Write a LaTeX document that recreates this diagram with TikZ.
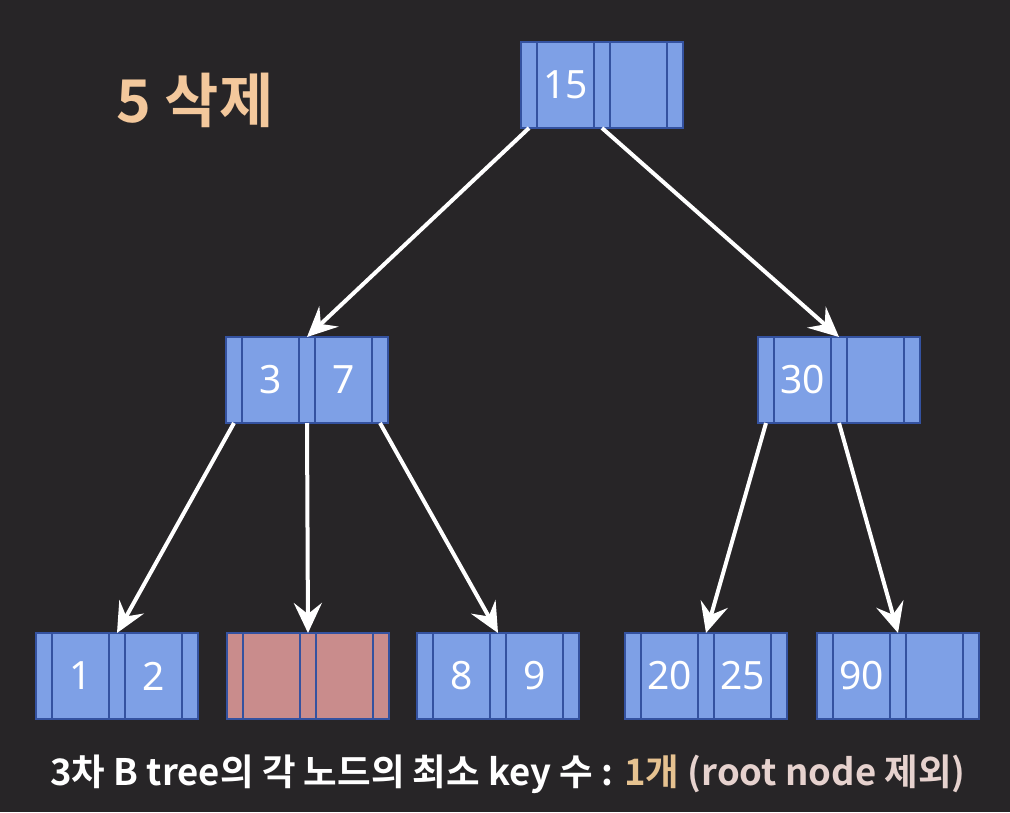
\documentclass[tikz,border=0pt]{standalone}
\usepackage{fontspec}
\setmainfont{Noto Sans}
\newfontfamily\krfont{Noto Sans CJK KR}[BoldFont={Noto Sans CJK KR Bold}]
\usetikzlibrary{positioning, arrows.meta}
\definecolor{bgColor}{HTML}{272527}
\definecolor{keyColor}{HTML}{7EA0E6}
\definecolor{lineColor}{HTML}{3452A0}
\definecolor{emptyColor}{HTML}{C98C8C}
\definecolor{titleColor}{HTML}{F3C89C}
\definecolor{countColor}{HTML}{E6C290}
\definecolor{noteColor}{HTML}{E6D2CE}
\tikzset{
  cell/.style = {draw=lineColor, line width=2.5pt, fill=keyColor, minimum height=86pt,
    inner sep=0pt, outer sep=0pt, text=white, font=\fontsize{39}{39}\selectfont},
  ptrCell/.style = {cell, minimum width=16pt},% pointeur
  keyCell/.style = {cell, minimum width=57pt},% cle
  emptyNode/.style = {fill=emptyColor},% noeud vide apres suppression
  link/.style = {draw=white, line width=4pt, -{Stealth[length=30pt, width=28pt, inset=11pt]}},
}
% #1 options, #2 nom, #3 position, #4 cle 1, #5 cle 2
\newcommand{\bnode}[5][]{%
  \node[ptrCell, anchor=west, #1] (#2-a) at (#3) {};
  \node[keyCell, right=0pt of #2-a, #1] (#2-k1) {#4};
  \node[ptrCell, right=0pt of #2-k1, #1] (#2-b) {};
  \node[keyCell, right=0pt of #2-b, #1] (#2-k2) {#5};
  \node[ptrCell, right=0pt of #2-k2, #1] (#2-c) {};
}

\begin{document}
\begin{tikzpicture}[x=1pt, y=-1pt]
\fill[bgColor] (0,0) rectangle (1010,812);
\useasboundingbox (0,0) rectangle (1010,812);

\node[titleColor, font=\krfont\bfseries\fontsize{59}{59}\selectfont, anchor=west] (title) at (113,100) {5 삭제};

\bnode{root}{521,85}{15}{}
\bnode{left}{226,380}{3}{7}
\bnode{right}{758,380}{30}{}
\bnode{leafA}{36,676}{1}{2}
\bnode[emptyNode]{leafB}{227,676}{}{}
\bnode{leafC}{417,676}{8}{9}
\bnode{leafD}{625,676}{20}{25}
\bnode{leafE}{817,676}{90}{}

\draw[link] (root-a.south) -- (left-b.north);
\draw[link] (root-b.south) -- (right-b.north);
\draw[link] (left-a.south) -- (leafA-b.north);
\draw[link] (left-b.south) -- (leafB-b.north);
\draw[link] (left-c.south) -- (leafC-b.north);
\draw[link] (right-a.south) -- (leafD-b.north);
\draw[link] (right-b.south) -- (leafE-b.north);

\node[white, font=\krfont\bfseries\fontsize{36.5}{36.5}\selectfont] (note) at (508,774)
  {3차 B tree의 각 노드의 최소 key 수 : \textcolor{countColor}{1개} \textcolor{noteColor}{(root node 제외)}};
\end{tikzpicture}
\end{document}
